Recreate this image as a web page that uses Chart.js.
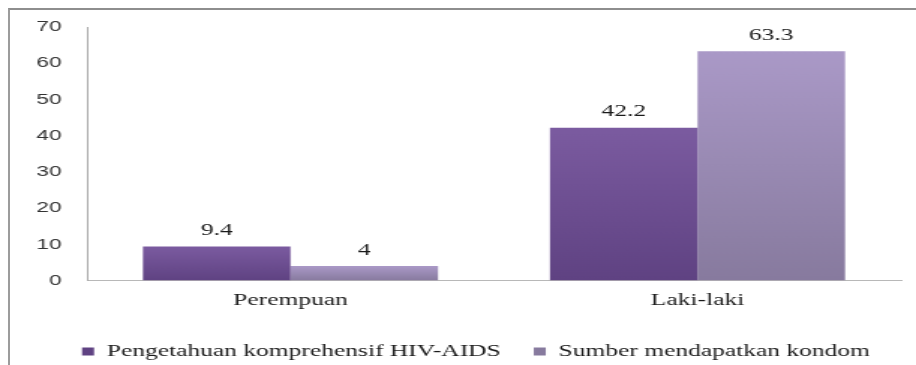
<!DOCTYPE html>
<html>
<head>
<meta charset="utf-8">
<script src="https://cdn.jsdelivr.net/npm/chart.js@4/dist/chart.umd.min.js"></script>
<style>
  html, body { margin: 0; padding: 0; background: #fff; overflow: hidden; }
  #frame {
    position: absolute; left: 8px; top: 8px; width: 1000px; height: 500px;
    border-top: 2px solid #8e8e8e; border-left: 2px solid #9c9c9c;
  }
  /* the source picture is stretched sideways, so the chart is drawn narrow and widened */
  #chart {
    position: absolute; left: 0; top: 0;
    transform: scaleX(1.4992); transform-origin: 0 0;
  }
</style>
</head>
<body>
<div id="frame"></div>
<canvas id="chart" width="611" height="365"></canvas>
<script>
// ---- Data ----
const categories = ['Perempuan', 'Laki-laki'];
const seriesNames = ['Pengetahuan komprehensif HIV-AIDS', 'Sumber mendapatkan kondom'];
const pengetahuan = [9.4, 42.2];
const sumberKondom = [4, 63.3];
const yMax = 70;
const yStep = 10;

const serif = '"Liberation Serif", "Times New Roman", serif';
const sans = '"Liberation Sans", Arial, sans-serif';

// vertical gradient per bar, brightest at the bar top
function barGradient(top, bottom) {
  return (context) => {
    const chart = context.chart;
    if (!chart.chartArea || context.raw === undefined) return top;
    const y = chart.scales.y;
    const y0 = y.getPixelForValue(context.raw);
    const y1 = y.getPixelForValue(0);
    if (!isFinite(y0) || y0 === y1) return top;
    const g = chart.ctx.createLinearGradient(0, y0, 0, y1);
    g.addColorStop(0, top);
    g.addColorStop(1, bottom);
    return g;
  };
}

// value labels above the bars
const barLabels = {
  id: 'barLabels',
  afterDatasetsDraw(chart) {
    const ctx = chart.ctx;
    ctx.save();
    ctx.font = '17px ' + serif;
    ctx.fillStyle = '#1a1a1a';
    ctx.textAlign = 'center';
    ctx.textBaseline = 'middle';
    chart.data.datasets.forEach((ds, i) => {
      chart.getDatasetMeta(i).data.forEach((bar, j) => {
        ctx.fillText(String(ds.data[j]), bar.x, bar.y - 16);
      });
    });
    ctx.restore();
  }
};

// legend in the original sits a bit right of the canvas centre
const shiftLegend = {
  id: 'shiftLegend',
  afterLayout(chart) {
    if (!chart.legend) return;
    chart.legend.left += 17;
    chart.legend.right += 17;
  }
};

function drawChart() {
  new Chart(document.getElementById('chart').getContext('2d'), {
    type: 'bar',
    data: {
      labels: categories,
      datasets: [
        {
          label: seriesNames[0],
          data: pengetahuan,
          backgroundColor: barGradient('#7b5ba0', '#5f4282'),
          borderWidth: 0,
        },
        {
          label: seriesNames[1],
          data: sumberKondom,
          backgroundColor: barGradient('#aa99c7', '#877a9e'),
          borderWidth: 0,
        },
      ],
    },
    options: {
      responsive: false,
      animation: false,
      layout: { padding: { left: 0, right: 10, top: 27, bottom: -5 } },
      datasets: { bar: { categoryPercentage: 0.725, barPercentage: 1.0 } },
      plugins: {
        tooltip: { enabled: false },
        legend: {
          position: 'bottom',
          labels: {
            boxWidth: 8,
            boxHeight: 8,
            padding: 22,
            color: '#1a1a1a',
            font: { family: serif, size: 17 },
          },
        },
      },
      scales: {
        x: {
          grid: { display: false, drawTicks: false },
          border: { display: true, color: '#b8b8b8', width: 1 },
          ticks: { color: '#1a1a1a', padding: 10, font: { family: serif, size: 17 } },
        },
        y: {
          min: 0,
          max: yMax,
          afterFit(scale) { scale.width = 58; },
          grid: { display: false, drawTicks: false },
          border: { display: true, color: '#a8a8a8', width: 1 },
          ticks: {
            stepSize: yStep,
            padding: 17,
            color: '#333',
            font: { family: sans, size: 15 },
          },
        },
      },
    },
    plugins: [barLabels, shiftLegend],
  });
}

// make sure the system fonts are ready before the canvas uses them
Promise.all([
  document.fonts.load('17px "Liberation Serif"'),
  document.fonts.load('15px "Liberation Sans"'),
]).then(drawChart, drawChart);
</script>
</body>
</html>
